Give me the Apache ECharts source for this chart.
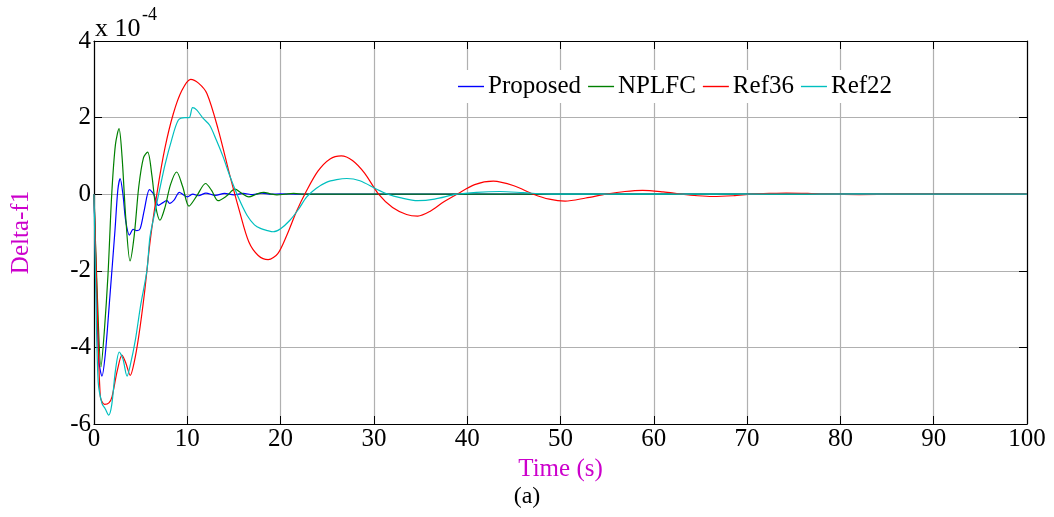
<!DOCTYPE html>
<html>
<head>
<meta charset="utf-8">
<script src="https://cdn.jsdelivr.net/npm/echarts@6/dist/echarts.min.js"></script>
<style>
  html, body { margin: 0; padding: 0; background: #fff; }
  #chart { width: 1054px; height: 517px; }
</style>
</head>
<body>
<div id="chart"></div>
<script>
'use strict';

// values in units of 1e-4
var legendNames = ['Proposed', 'NPLFC', 'Ref36', 'Ref22'];
var lineColors = ['#0000ff', '#008000', '#ff0000', '#00bfbf'];

var proposedT = [0, 0.3, 0.55, 0.85, 1.2, 1.7, 2.25, 2.55, 2.8, 3.1, 3.4, 3.8, 4.2, 4.6, 4.95, 5.4, 5.95, 6.4, 6.9, 7.4, 7.8, 8.1, 8.6, 9.15, 9.6, 10.0, 10.6, 11.2, 12, 13, 14, 15, 16, 17, 18, 19, 20, 22, 25, 100];
var proposedV = [0, -2.8, -4.4, -4.75, -4.2, -2.68, -0.94, 0.1, 0.41, 0.0, -0.7, -1.07, -0.92, -0.95, -0.9, -0.4, 0.12, 0.0, -0.29, -0.22, -0.16, -0.24, -0.15, 0.05, -0.02, -0.07, 0.0, -0.04, 0.03, -0.03, 0.02, -0.02, 0.02, -0.01, 0.03, 0, 0.01, 0, 0, 0];

var nplfcT = [0, 0.35, 0.75, 1.1, 1.5, 1.9, 2.3, 2.68, 3.0, 3.4, 3.86, 4.3, 4.8, 5.3, 5.75, 6.2, 6.6, 7.07, 7.6, 8.2, 8.86, 9.5, 10.18, 11.0, 11.96, 12.6, 13.3, 14.2, 15.1, 15.8, 16.6, 17.4, 18.2, 18.9, 19.6, 20.5, 21.4, 22.5, 25, 100];
var nplfcV = [0, -2.6, -4.51, -3.6, -2.1, 0.0, 1.3, 1.71, 1.0, -0.6, -1.74, -1.1, 0.2, 0.95, 1.1, 0.5, -0.3, -0.68, -0.35, 0.25, 0.58, 0.2, -0.31, -0.05, 0.28, 0.1, -0.17, -0.05, 0.13, 0.03, -0.07, 0, 0.05, 0.01, -0.02, 0, 0.02, 0, 0, 0];

var ref36T = [0, 0.3, 0.68, 1.14, 1.6, 1.93, 2.5, 3.0, 3.4, 3.89, 4.3, 4.79, 5.4, 6.03, 6.8, 7.6, 8.5, 9.4, 10.36, 11.2, 12.1, 13.3, 14.6, 15.6, 16.6, 17.6, 18.67, 19.7, 20.7, 21.7, 22.7, 24.0, 25.3, 26.5, 27.7, 29.0, 30.5, 32, 33.5, 34.7, 36, 37.5, 38.9, 40.8, 42.8, 45, 47.1, 48.8, 50.5, 52.7, 54.9, 56.9, 58.8, 61, 63, 64.7, 66.3, 68.5, 70.5, 72.5, 74.2, 76.5, 78.5, 82, 86, 100];
var ref36V = [0, -2.5, -5.29, -5.49, -5.45, -5.29, -4.6, -4.2, -4.4, -4.73, -4.4, -3.72, -2.6, -1.2, 0.1, 1.2, 2.1, 2.7, 3.0, 2.9, 2.63, 1.7, 0.45, -0.45, -1.25, -1.6, -1.71, -1.55, -1.05, -0.45, 0.05, 0.6, 0.92, 1.0, 0.88, 0.55, 0.0, -0.35, -0.53, -0.57, -0.45, -0.2, 0.0, 0.25, 0.34, 0.22, 0.0, -0.13, -0.18, -0.1, 0.0, 0.07, 0.1, 0.06, 0.0, -0.04, -0.06, -0.04, 0.0, 0.02, 0.03, 0.02, 0.0, -0.01, 0, 0];

var ref22T = [0, 0.2, 0.45, 0.86, 1.2, 1.57, 1.9, 2.3, 2.71, 3.1, 3.54, 3.9, 4.43, 5.0, 5.68, 6.0, 6.57, 7.1, 7.64, 8.3, 9.03, 9.75, 10.2, 10.57, 11.0, 11.7, 12.4, 13.1, 13.8, 14.6, 15.5, 16.4, 17.2, 17.9, 18.6, 19.2, 20.0, 21.0, 21.9, 22.8, 23.8, 24.9, 26.0, 27.1, 28.5, 30.3, 31.5, 32.8, 34.7, 36.5, 38.9, 41, 43.5, 46, 49, 55, 100];
var ref22V = [0, -2.6, -4.9, -5.47, -5.6, -5.77, -5.5, -4.6, -4.12, -4.3, -4.75, -4.45, -3.81, -2.9, -1.98, -1.11, -0.42, 0.2, 0.8, 1.4, 1.93, 2.0, 2.0, 2.26, 2.2, 1.98, 1.8, 1.42, 1.0, 0.45, -0.1, -0.55, -0.8, -0.9, -0.95, -0.98, -0.9, -0.68, -0.4, -0.07, 0.15, 0.31, 0.38, 0.41, 0.35, 0.13, 0.0, -0.09, -0.17, -0.13, 0.0, 0.05, 0.07, 0.04, 0.0, 0, 0];

var FONT = "'Liberation Serif', 'Times New Roman', serif";
var MAGENTA = '#cc00cc';

var pairs = function (ts, vs) {
    var out = [];
    for (var i = 0; i < ts.length; i++) {
        out.push([ts[i], vs[i]]);
    }
    return out;
};

var seriesData = [
    pairs(proposedT, proposedV),
    pairs(nplfcT, nplfcV),
    pairs(ref36T, ref36V),
    pairs(ref22T, ref22V)
];

var series = legendNames.map(function (name, i) {
    return {
        name: name,
        type: 'line',
        data: seriesData[i],
        symbol: 'none',
        smooth: 0.3,
        lineStyle: { color: lineColors[i], width: 1.2 },
        itemStyle: { color: lineColors[i] },
        z: 3 + i
    };
});

var boxAxisX = function (pos, showLabel, name) {
    return {
        type: 'value',
        position: pos,
        min: 0,
        max: 100,
        interval: 10,
        name: name,
        nameLocation: 'middle',
        nameGap: 30,
        nameTextStyle: { fontFamily: FONT, fontSize: 25, color: MAGENTA },
        axisLine: { onZero: false, lineStyle: { color: '#000', width: 1.2 } },
        axisTick: { inside: true, length: 8, lineStyle: { color: '#000' } },
        axisLabel: { show: showLabel, fontFamily: FONT, fontSize: 25, color: '#000', margin: 3 },
        splitLine: { show: showLabel, lineStyle: { color: '#b0b0b0', width: 1.2 } }
    };
};

var boxAxisY = function (pos, showLabel, name) {
    return {
        type: 'value',
        position: pos,
        min: -6,
        max: 4,
        interval: 2,
        name: name,
        nameLocation: 'middle',
        nameGap: 60,
        nameTextStyle: { fontFamily: FONT, fontSize: 25, color: MAGENTA },
        axisLine: { onZero: false, lineStyle: { color: '#000', width: 1.2 } },
        axisTick: { inside: true, length: 8, lineStyle: { color: '#000' } },
        axisLabel: { show: showLabel, fontFamily: FONT, fontSize: 25, color: '#000', margin: 3 },
        splitLine: { show: showLabel, lineStyle: { color: '#b0b0b0', width: 1.2 } }
    };
};

var chart = echarts.init(document.getElementById('chart'), null, { renderer: 'canvas' });

chart.setOption({
    animation: false,
    backgroundColor: '#fff',
    grid: { left: 94, right: 27, top: 41, bottom: 93 },
    legend: {
        data: legendNames,
        icon: 'rect',
        left: 452,
        top: 70,
        padding: [4, 6],
        itemGap: 7,
        itemWidth: 26,
        itemHeight: 1.4,
        backgroundColor: '#fff',
        textStyle: { fontFamily: FONT, fontSize: 25, color: '#000', padding: [0, 0, 0, -1] }
    },
    xAxis: [boxAxisX('bottom', true, 'Time (s)'), boxAxisX('top', false, '')],
    yAxis: [boxAxisY('left', true, 'Delta-f1'), boxAxisY('right', false, '')],
    graphic: [
        {
            type: 'text',
            left: 95,
            top: 16,
            style: { text: 'x 10', fontFamily: FONT, fontSize: 26, fill: '#000' }
        },
        {
            type: 'text',
            left: 142,
            top: 6,
            style: { text: '-4', fontFamily: FONT, fontSize: 18, fill: '#000' }
        },
        {
            type: 'text',
            left: 'center',
            top: 485,
            style: { text: '(a)', fontFamily: FONT, fontSize: 24, fill: '#000' }
        }
    ],
    series: series
});
</script>
</body>
</html>
